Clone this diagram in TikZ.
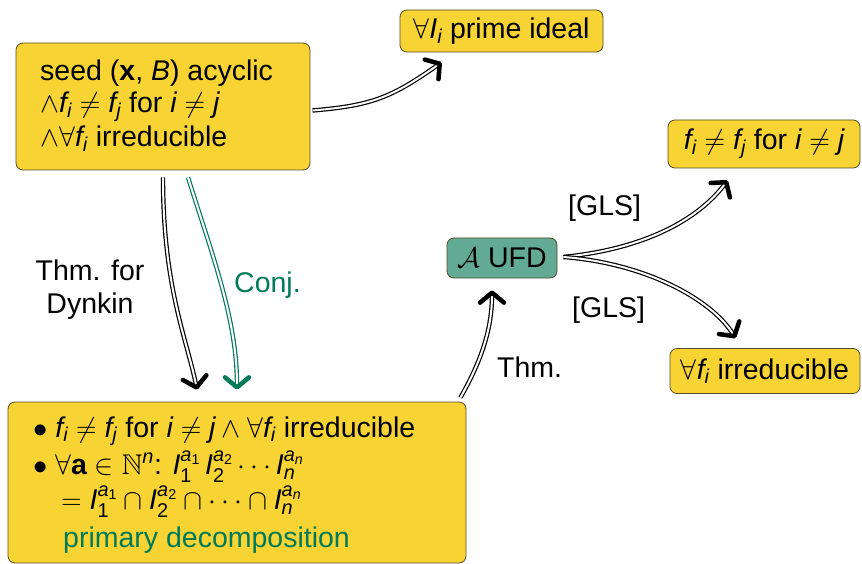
\RequirePackage{fix-cm}
\documentclass[tikz,border=0pt]{standalone}
\usepackage{amsmath,amssymb}
\usepackage{fontspec}
\setmainfont{Liberation Sans}
\usetikzlibrary{arrows.meta,calc}
\definecolor{boxyellow}{RGB}{247,212,52}
\definecolor{boxborder}{RGB}{85,75,40}
\definecolor{ufdteal}{RGB}{98,170,148}
\definecolor{conjgreen}{RGB}{0,122,88}
\newcommand\mv[1]{\mathit{#1}}
\newcommand\dg[1]{\text{#1}}
\tikzset{
  ybox/.style={draw=boxborder, line width=0.8pt, fill=boxyellow, rounded corners=7pt, inner ysep=3pt},
  tbox/.style={draw=boxborder, line width=0.8pt, fill=ufdteal, rounded corners=7pt, inner ysep=3pt},
  lbl/.style={inner sep=0pt},
  impl/.style={double, double distance=2pt, line width=1.2pt,
    -{Straight Barb[length=10pt,width=24pt,line width=4.5pt,round]}},
}
\begin{document}
\begin{tikzpicture}[x=1pt,y=-1pt,font=\fontsize{28.5}{33}\selectfont]
\useasboundingbox (0,0) rectangle (862,564);
% boxes
\node[ybox, minimum width=294pt, minimum height=127pt] (seed) at (163,106.5) {};
\node[lbl, anchor=base west] (s1) at (40,81) {seed ($\mathbf{x}$, $\mv{B}$) acyclic};
\node[lbl, anchor=base west] (s2) at (40,113) {$\wedge \mv{f}_{\mv{i}} \neq \mv{f}_{\mv{j}}$ for $\mv{i}\neq \mv{j}$};
\node[lbl, anchor=base west] (s3) at (40,147) {$\wedge \forall \mv{f}_{\mv{i}}$ irreducible};
\node[ybox, minimum width=203pt, minimum height=42pt] (prime) at (501.5,31)
  {$\forall \mv{I}_{\mv{i}}$ prime ideal};
\node[ybox, minimum width=192pt, minimum height=48pt] (fneq) at (764,144)
  {$\mv{f}_{\mv{i}} \neq \mv{f}_{\mv{j}}$ for $\mv{i}\neq \mv{j}$};
\node[ybox, minimum width=190pt, minimum height=45pt] (irr) at (765,371)
  {$\forall \mv{f}_{\mv{i}}$ irreducible};
\node[tbox, minimum width=110pt, minimum height=40pt] (ufd) at (502,258)
  {$\mathcal{A}$ UFD};
\node[ybox, minimum width=458pt, minimum height=161pt] (bottom) at (237,482.5) {};
\node[lbl, anchor=base west] (b1) at (33,437)
  {$\bullet$ $\mv{f}_{\mv{i}} \neq \mv{f}_{\mv{j}}$ for $\mv{i}\neq \mv{j} \wedge \forall \mv{f}_{\mv{i}}$ irreducible};
\node[lbl, anchor=base west] (b2) at (33,474)
  {$\bullet$ $\forall \mathbf{a}\in\mathbb{N}^{\mv{n}}$: $\mv{I}_{\dg{1}}^{\mv{a}_{\dg{1}}}\, \mv{I}_{\dg{2}}^{\mv{a}_{\dg{2}}}\cdots \mv{I}_{\mv{n}}^{\mv{a}_{\mv{n}}}$};
\node[lbl, anchor=base west] (b3) at (61,509)
  {$= \mv{I}_{\dg{1}}^{\mv{a}_{\dg{1}}}\cap \mv{I}_{\dg{2}}^{\mv{a}_{\dg{2}}}\cap\cdots\cap \mv{I}_{\mv{n}}^{\mv{a}_{\mv{n}}}$};
\node[lbl, anchor=base west, text=conjgreen] (b4) at (63,547) {primary decomposition};
% arrows
\draw[impl] ($(seed.east)+(2,4)$) .. controls +(60,-5) and +(-50,35) .. ($(prime.south west)+(42,10)$);
\draw[impl] ($(seed.south)+(0,7)$) .. controls +(0,110) and +(-10,-50) .. ($(bottom.north)+(-40,-12)$);
\draw[impl, draw=conjgreen] ($(seed.south)+(25,7)$) .. controls +(25,80) and +(0,-70) .. ($(bottom.north)+(0,-12)$);
\draw[impl] ($(bottom.north east)+(-6,-4)$) .. controls +(20,-35) and +(0,40) .. ($(ufd.south)+(-10,12)$);
\draw[impl] ($(ufd.east)+(6,-1)$) .. controls +(80,-8) and +(-30,40) .. ($(fneq.south west)+(60,12)$);
\draw[impl] ($(ufd.east)+(6,-1)$) .. controls +(80,6) and +(-25,-40) .. ($(irr.north west)+(66,-10)$);
% labels
\node[lbl, align=center] (lthm) at (90,290) {Thm. for\\Dynkin};
\node[lbl, anchor=base west, text=conjgreen] (lconj) at (234,292) {Conj.};
\node[lbl, anchor=base west] (lthm2) at (497,377) {Thm.};
\node[lbl, anchor=base west] (lgls1) at (568,215) {[GLS]};
\node[lbl, anchor=base west] (lgls2) at (572,317) {[GLS]};
\end{tikzpicture}
\end{document}
